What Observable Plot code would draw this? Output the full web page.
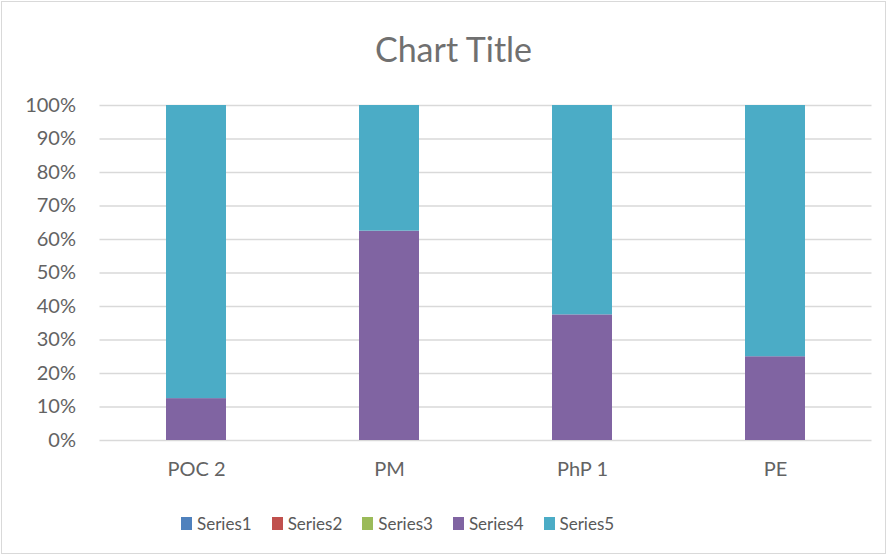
<!DOCTYPE html>
<html>
<head>
<meta charset="utf-8">
<script src="https://cdn.jsdelivr.net/npm/d3@7"></script>
<script src="https://cdn.jsdelivr.net/npm/@observablehq/plot@0.6"></script>
<style>
  html, body { margin: 0; padding: 0; background: #fff; }
  #wrap { position: relative; width: 890px; height: 558px; overflow: hidden; font-family: Lato, "Open Sans", sans-serif; }
  #frame { position: absolute; left: 1px; top: 1px; width: 885px; height: 553px; border: 1.5px solid #D9D9D9; box-sizing: border-box; }
  #title { position: absolute; left: 0; width: 907px; top: 28px; text-align: center; font-size: 34px; color: #707070; }
  #legend { position: absolute; left: 181px; top: 513px; display: flex; font-size: 17px; color: #595959; }
  .li { display: flex; align-items: center; margin-right: 20px; }
  .sw { width: 11px; height: 13px; margin-right: 5px; }
  svg { position: absolute; left: 0; top: 0; }
</style>
</head>
<body>
<div id="wrap"><div id="frame"></div><div id="title">Chart Title</div><div id="legend"></div></div>
<script>
const categories = ["POC 2", "PM", "PhP 1", "PE"];
const seriesNames = ["Series1", "Series2", "Series3", "Series4", "Series5"];
const seriesColors = ["#4F81BD", "#C0504D", "#9BBB59", "#8064A2", "#4BACC6"];
const series1 = [0, 0, 0, 0];
const series2 = [0, 0, 0, 0];
const series3 = [0, 0, 0, 0];
const series4 = [1, 5, 3, 2];
const series5 = [7, 3, 5, 6];
const yTicks = [0, 0.1, 0.2, 0.3, 0.4, 0.5, 0.6, 0.7, 0.8, 0.9, 1];

const allSeries = [series1, series2, series3, series4, series5];
const rows = [];
allSeries.forEach((vals, si) => vals.forEach((v, ci) => rows.push({cat: categories[ci], series: seriesNames[si], value: v})));

const chart = Plot.plot({
  width: 890,
  height: 558,
  marginLeft: 99.5,
  marginRight: 18.5,
  marginTop: 105,
  marginBottom: 118,
  style: {fontFamily: "Lato, 'Open Sans', sans-serif", fontSize: "20px", color: "#636363", background: "transparent"},
  x: {domain: categories, paddingInner: 0.689, paddingOuter: 0.3445, label: null, tickSize: 0, tickPadding: 21},
  y: {domain: [0, 1], ticks: yTicks, tickFormat: d => Math.round(d * 100) + "%", label: null, tickSize: 0, tickPadding: 24},
  color: {domain: seriesNames, range: seriesColors},
  marks: [
    Plot.gridY(yTicks, {stroke: "#D9D9D9", strokeOpacity: 1, strokeWidth: 1.5}),
    Plot.barY(rows, Plot.stackY({offset: "normalize", order: seriesNames}, {x: "cat", y: "value", fill: "series"}))
  ]
});
document.getElementById("wrap").appendChild(chart);

const legend = document.getElementById("legend");
seriesNames.forEach((s, i) => {
  const li = document.createElement("div");
  li.className = "li";
  li.innerHTML = `<span class="sw" style="background:${seriesColors[i]}"></span><span>${s}</span>`;
  legend.appendChild(li);
});
</script>
</body>
</html>
